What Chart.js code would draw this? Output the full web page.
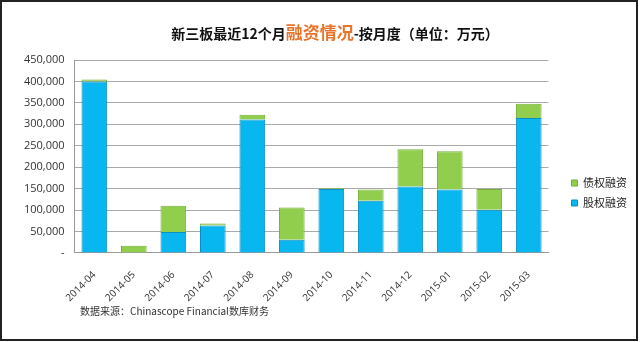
<!DOCTYPE html>
<html>
<head>
<meta charset="utf-8">
<script src="https://cdn.jsdelivr.net/npm/chart.js@4.4.1/dist/chart.umd.min.js"></script>
<style>
  body { margin: 0; background: #fff; font-family: "Noto Sans CJK SC", "Open Sans", sans-serif; }
  #frame { position: absolute; left: 0; top: 0; width: 638px; height: 341px; box-sizing: border-box; border: 2px solid #222; }
  #title { position: absolute; left: 0; width: 670px; top: 19px; text-align: center; font-weight: bold; font-size: 14px; color: #111; white-space: nowrap; }
  #title .hl { color: #E8742A; font-size: 17px; }
  #source { position: absolute; left: 80px; top: 303px; font-size: 10px; color: #333; }
  #wrap { position: absolute; left: 0; top: 0; width: 640px; height: 342px; }
</style>
</head>
<body>
<div id="wrap"><canvas id="myChart" width="640" height="342"></canvas></div>
<div id="frame"></div>
<div id="title">新三板最近12个月<span class="hl">融资情况</span>-按月度（单位：万元）</div>
<div id="source">数据来源：Chinascope Financial数库财务</div>

<script>
  var months = ["2014-04", "2014-05", "2014-06", "2014-07", "2014-08", "2014-09",
                "2014-10", "2014-11", "2014-12", "2015-01", "2015-02", "2015-03"];
  // 股权融资
  var equity = [400000, 0, 49000, 64000, 311000, 31000, 149000, 122000, 155000, 148000, 101000, 315000];
  // 债权融资
  var debt = [4500, 17000, 61000, 5000, 11500, 75000, 2000, 26000, 87000, 89000, 48000, 33000];

  // nudge the legend a bit lower/right, like the original picture
  var legendShift = {
    id: "legendShift",
    beforeDraw: function (chart) {
      var lg = chart.legend;
      lg.left += 14; lg.right += 14;
      lg.top += 7; lg.bottom += 7;
    }
  };

  new Chart("myChart", {
    type: "bar",
    data: {
      labels: months,
      datasets: [{
        label: "股权融资",
        data: equity,
        backgroundColor: "#08B6F0",
        borderColor: "#0A8FC0",
        borderWidth: 1
      }, {
        label: "债权融资",
        data: debt,
        backgroundColor: "#92CE4E",
        borderColor: "#74AD37",
        borderWidth: 1
      }]
    },
    plugins: [legendShift],
    options: {
      responsive: false,
      animation: false,
      layout: { padding: { left: 14, top: 60, right: 17, bottom: 30 } },
      datasets: { bar: { categoryPercentage: 1, barPercentage: 0.65 } },
      plugins: {
        legend: {
          position: "right",
          reverse: true,
          labels: {
            boxWidth: 6, boxHeight: 6, padding: 9,
            color: "#222",
            font: { family: "Noto Sans CJK SC", size: 11 }
          }
        },
        tooltip: { enabled: false }
      },
      scales: {
        x: {
          stacked: true,
          grid: { display: false },
          border: { color: "#999" },
          ticks: {
            minRotation: 45, maxRotation: 45,
            padding: 8,
            color: "#333",
            font: { family: "Open Sans", size: 10 }
          }
        },
        y: {
          stacked: true,
          min: 0, max: 450000,
          grid: { color: "#AAAAAA", drawTicks: false },
          border: { color: "#999" },
          ticks: {
            stepSize: 50000,
            padding: 10,
            color: "#333",
            font: { family: "Open Sans", size: 11 },
            callback: function (v) { return v === 0 ? "-" : v.toLocaleString("en-US"); }
          }
        }
      }
    }
  });
</script>
</body>
</html>
